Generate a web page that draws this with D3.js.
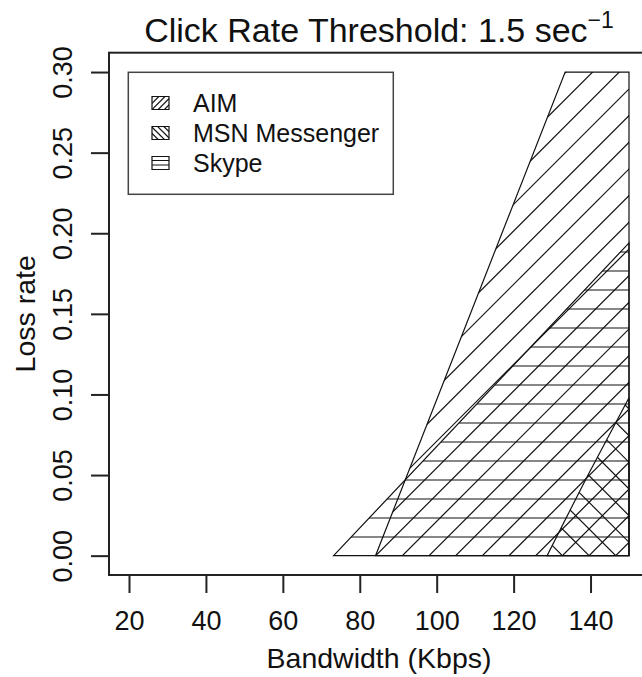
<!DOCTYPE html>
<html>
<head>
<meta charset="utf-8">
<script src="https://cdn.jsdelivr.net/npm/d3@7/dist/d3.min.js"></script>
<style>
  body { margin: 0; background: #fff; }
  svg text { font-family: "Liberation Sans", Arial, sans-serif; fill: #111; }
</style>
</head>
<body>
<div id="chart"></div>
<script>
// acceptable regions, one polygon per app (bandwidth in Kbps, loss rate)
const aimBandwidth = [84.1, 150, 150, 133.4];
const aimLoss = [0, 0, 0.30, 0.30];
const msnBandwidth = [128.7, 150, 150, 139.1];
const msnLoss = [0, 0, 0.098, 0.049];
const skypeBandwidth = [73.2, 150, 150];
const skypeLoss = [0, 0, 0.194];

const apps = ['AIM', 'MSN Messenger', 'Skype'];
const hatchAngles = [45, 135, 0];
const xTicks = [20, 40, 60, 80, 100, 120, 140];
const yTicks = [0, 0.05, 0.10, 0.15, 0.20, 0.25, 0.30];
const titleText = 'Click Rate Threshold: 1.5 sec';
const titleExp = '\u22121';

const regions = [
    { name: apps[0], angle: hatchAngles[0], pts: aimBandwidth.map((b, i) => [b, aimLoss[i]]) },
    { name: apps[1], angle: hatchAngles[1], pts: msnBandwidth.map((b, i) => [b, msnLoss[i]]) },
    { name: apps[2], angle: hatchAngles[2], pts: skypeBandwidth.map((b, i) => [b, skypeLoss[i]]) },
];

const width = 642;
const height = 677;

// R pads the axis limits by 4%
const padX = (150 - 20) * 0.04;
const padY = 0.3 * 0.04;
const x = d3.scaleLinear().domain([20 - padX, 150 + padX]).range([109, 649]);
const y = d3.scaleLinear().domain([-padY, 0.3 + padY]).range([575, 52.7]);

// hatch spacing in px (same density for every polygon, anchored to the plot origin)
const stepY = 19.0;
const stepX = 26.67;

const svg = d3.select('#chart').append('svg')
    .attr('width', width)
    .attr('height', height);

const defs = svg.append('defs');
const $vis = svg.append('g').attr('class', 'g-vis');

const line = d3.line();

function hatch($g, pts, angle, id, originX, originY, zeroY, sy, sx) {
    const xs = pts.map(p => p[0]);
    const ys = pts.map(p => p[1]);
    const minX = d3.min(xs) - 2;
    const maxX = d3.max(xs) + 2;
    const minY = d3.min(ys) - 2;
    const maxY = d3.max(ys) + 2;

    defs.append('clipPath').attr('id', id)
        .append('path').attr('d', line(pts) + 'Z');

    const segs = [];
    if (angle === 0) {
        for (let yy = originY; yy >= minY; yy -= sy) {
            if (yy <= maxY) segs.push([[minX, yy], [maxX, yy]]);
        }
    } else {
        const dir = angle === 45 ? 1 : -1;
        for (let k = -200; k < 200; k++) {
            const xk = originX + k * sx;
            const xa = xk + dir * (zeroY - minY);
            const xb = xk + dir * (zeroY - maxY);
            if (Math.max(xa, xb) < minX || Math.min(xa, xb) > maxX) continue;
            segs.push([[xa, minY], [xb, maxY]]);
        }
    }

    $g.append('g')
        .attr('clip-path', `url(#${id})`)
        .selectAll('line')
        .data(segs)
        .join('line')
        .attr('x1', d => d[0][0])
        .attr('y1', d => d[0][1])
        .attr('x2', d => d[1][0])
        .attr('y2', d => d[1][1])
        .attr('stroke', '#111')
        .attr('stroke-width', 1.2);

    $g.append('path')
        .attr('d', line(pts) + 'Z')
        .attr('fill', 'none')
        .attr('stroke', '#111')
        .attr('stroke-width', 1.2);
}

// regions
regions.forEach((r, i) => {
    const pts = r.pts.map(p => [x(p[0]), y(p[1])]);
    hatch($vis, pts, r.angle, `clip-${i}`, x.range()[0], y.range()[0], y(0), stepY, stepX);
});

// plot box
svg.append('rect')
    .attr('x', x.range()[0])
    .attr('y', y.range()[1])
    .attr('width', x.range()[1] - x.range()[0])
    .attr('height', y.range()[0] - y.range()[1])
    .attr('fill', 'none')
    .attr('stroke', '#222')
    .attr('stroke-width', 2);

// axes
const $xAxis = svg.append('g')
    .attr('transform', `translate(0, ${y.range()[0]})`)
    .call(d3.axisBottom(x).tickValues(xTicks).tickSize(18).tickFormat(d3.format('d')));
$xAxis.select('.domain').remove();
$xAxis.selectAll('.tick line').attr('stroke', '#222').attr('stroke-width', 2);
$xAxis.selectAll('.tick text')
    .attr('y', 55).attr('dy', 0)
    .attr('font-size', 27)
    .attr('font-family', null)
    .attr('fill', '#111');

const $yAxis = svg.append('g')
    .attr('transform', `translate(${x.range()[0]}, 0)`)
    .call(d3.axisLeft(y).tickValues(yTicks).tickSize(18).tickFormat(d3.format('.2f')));
$yAxis.select('.domain').remove();
$yAxis.selectAll('.tick line').attr('stroke', '#222').attr('stroke-width', 2);
$yAxis.selectAll('.tick text')
    .attr('x', 0).attr('dy', 0)
    .attr('text-anchor', 'middle')
    .attr('transform', 'translate(-37, 0) rotate(-90)')
    .attr('font-size', 27)
    .attr('font-family', null)
    .attr('fill', '#111');

// axis titles
const cx = (x.range()[0] + x.range()[1]) / 2;
svg.append('text')
    .attr('x', cx).attr('y', 668)
    .attr('text-anchor', 'middle')
    .attr('font-size', 28.5)
    .text('Bandwidth (Kbps)');

svg.append('text')
    .attr('transform', `translate(35, ${(y.range()[0] + y.range()[1]) / 2}) rotate(-90)`)
    .attr('text-anchor', 'middle')
    .attr('font-size', 28.5)
    .text('Loss rate');

// title with superscript
const $title = svg.append('text')
    .attr('x', cx).attr('y', 42)
    .attr('text-anchor', 'middle')
    .attr('font-size', 34);
$title.append('tspan').text(titleText);
$title.append('tspan').attr('dy', -14).attr('font-size', 23).text(titleExp);

// legend
const $legend = svg.append('g').attr('class', 'g-legend');
$legend.append('rect')
    .attr('x', 128.3).attr('y', 72.3)
    .attr('width', 265).attr('height', 122)
    .attr('fill', '#fff')
    .attr('stroke', '#444')
    .attr('stroke-width', 1.5);

regions.forEach((r, i) => {
    const cy = 103 + i * 30;
    const bx = 152;
    const bw = 17;
    const bh = 13;
    const pts = [[bx, cy - bh / 2], [bx + bw, cy - bh / 2], [bx + bw, cy + bh / 2], [bx, cy + bh / 2]];
    hatch($legend, pts, r.angle, `clip-leg-${i}`, bx, cy + bh / 2, cy + bh / 2, 4.5, 6.2);
    $legend.append('text')
        .attr('x', 193).attr('y', cy + 9)
        .attr('font-size', 25)
        .text(r.name);
});
</script>
</body>
</html>
